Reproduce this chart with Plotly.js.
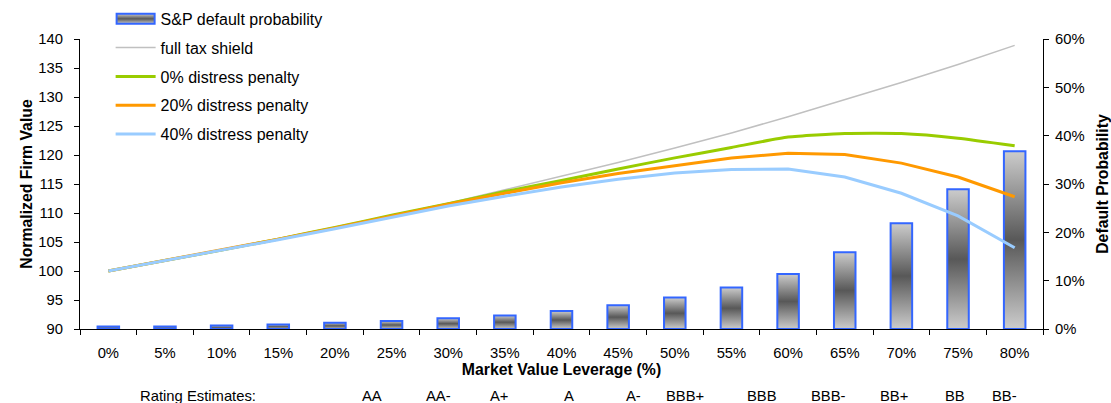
<!DOCTYPE html>
<html>
<head>
<meta charset="utf-8">
<script src="https://cdn.plot.ly/plotly-3.0.1.min.js"></script>
<style>
html,body{margin:0;padding:0;background:#fff;}
#chart{width:1111px;height:403px;}
</style>
</head>
<body>
<div id="chart"></div>
<script>
// ---- data ----
const leverageLabels = ["0%","5%","10%","15%","20%","25%","30%","35%","40%","45%","50%","55%","60%","65%","70%","75%","80%"];
const defaultProb = [0.5, 0.5, 0.7, 0.95, 1.3, 1.65, 2.2, 2.8, 3.7, 4.9, 6.5, 8.6, 11.4, 15.9, 21.9, 28.9, 36.8];
const fullTaxShield = [100, 101.8, 103.6, 105.5, 107.5, 109.6, 111.7, 114.0, 116.3, 118.7, 121.2, 123.8, 126.6, 129.5, 132.5, 135.6, 138.9];
const distress0 = [100, 101.8, 103.6, 105.5, 107.5, 109.6, 111.6, 113.7, 115.6, 117.6, 119.5, 121.3, 123.1, 123.7, 123.7, 122.9, 121.6];
const distress20 = [100, 101.8, 103.6, 105.5, 107.4, 109.5, 111.5, 113.4, 115.2, 116.8, 118.1, 119.5, 120.3, 120.1, 118.6, 116.2, 112.8];
const distress40 = [100, 101.8, 103.5, 105.4, 107.3, 109.3, 111.2, 112.9, 114.5, 115.8, 116.9, 117.5, 117.6, 116.2, 113.4, 109.5, 104.0];
const seriesNames = ["S&P default probability","full tax shield","0% distress penalty","20% distress penalty","40% distress penalty"];
const leftTicks = [90,95,100,105,110,115,120,125,130,135,140];
const rightTicks = [0,10,20,30,40,50,60];
const rightTickText = ["0%","10%","20%","30%","40%","50%","60%"];
const ratingTitle = "Rating Estimates:";
const ratingLabels = ["AA","AA-","A+","A","A-","BBB+","BBB","BBB-","BB+","BB","BB-"];
// label placement (category index units)
const ratingPos = [4.65, 5.82, 6.90, 8.14, 9.27, 10.18, 11.54, 12.71, 13.87, 14.94, 15.82];
const ratingTitlePos = 1.58;

const FONT = "Liberation Sans, Arial, Helvetica, sans-serif";
const TICK = 14.8;

const traces = [
  {type:"bar", x:leverageLabels, y:defaultProb, name:seriesNames[0], yaxis:"y", width:0.38,
   marker:{color:"#808080", line:{color:"#3366ff", width:2}}, legendgroup:"g0"},
  {type:"scatter", mode:"lines", x:leverageLabels, y:fullTaxShield, name:seriesNames[1], yaxis:"y2",
   line:{color:"#c0c0c0", width:1.5}, legendgroup:"g1"},
  {type:"scatter", mode:"lines", x:leverageLabels, y:distress0, name:seriesNames[2], yaxis:"y2",
   line:{color:"#99cc00", width:3, shape:"spline", smoothing:0.5}, legendgroup:"g2"},
  {type:"scatter", mode:"lines", x:leverageLabels, y:distress20, name:seriesNames[3], yaxis:"y2",
   line:{color:"#ff9900", width:3}, legendgroup:"g3"},
  {type:"scatter", mode:"lines", x:leverageLabels, y:distress40, name:seriesNames[4], yaxis:"y2",
   line:{color:"#99ccff", width:3}, legendgroup:"g4"}
];

const annotations = [{
  text: ratingTitle, x: ratingTitlePos, xref:"x", y:-0.231, yref:"paper",
  showarrow:false, xanchor:"center", yanchor:"middle", font:{family:FONT, size:TICK, color:"#000"}
}];
ratingLabels.forEach((t,i)=>{
  annotations.push({text:t, x:ratingPos[i], xref:"x", y:-0.231, yref:"paper",
    showarrow:false, xanchor:"center", yanchor:"middle", font:{family:FONT, size:TICK, color:"#000"}});
});

const layout = {
  width:1111, height:403,
  margin:{l:80, r:68, t:39, b:74, pad:0, autoexpand:false},
  paper_bgcolor:"#fff", plot_bgcolor:"#fff",
  font:{family:FONT, size:TICK, color:"#000"},
  showlegend:true,
  legend:{x:0.0318, y:1.128, xanchor:"left", yanchor:"top", bgcolor:"rgba(0,0,0,0)",
    font:{family:FONT, size:16, color:"#000"}, traceorder:"grouped", tracegroupgap:5, itemwidth:40},
  xaxis:{type:"category", tickson:"boundaries", ticks:"outside", ticklen:5, tickcolor:"#000",
    showline:true, linecolor:"#000", linewidth:1, showgrid:false, zeroline:false,
    tickfont:{family:FONT, size:TICK}, range:[-0.5,16.5], ticklabelstandoff:10,
    title:{text:"<b>Market Value Leverage (%)</b>", font:{family:FONT, size:15.8}, standoff:2}},
  yaxis:{side:"right", range:[0,60], tickvals:rightTicks, ticktext:rightTickText,
    ticks:"outside", ticklen:5, tickcolor:"#000", showline:true, linecolor:"#000", linewidth:1,
    showgrid:false, zeroline:false, tickfont:{family:FONT, size:TICK}, ticklabelstandoff:3,
    title:{text:"<b>Default Probability</b>", font:{family:FONT, size:15.8}, standoff:13}},
  yaxis2:{overlaying:"y", side:"left", range:[90,140], tickvals:leftTicks,
    ticks:"outside", ticklen:5, tickcolor:"#000", showline:true, linecolor:"#000", linewidth:1,
    showgrid:false, zeroline:false, tickfont:{family:FONT, size:TICK}, ticklabelstandoff:8,
    title:{text:"<b>Normalized Firm Value</b>", font:{family:FONT, size:15.8}, standoff:1}},
  annotations: annotations
};

Plotly.newPlot("chart", traces, layout, {staticPlot:true, displayModeBar:false}).then(gd=>{
  const svg = gd.querySelector(".main-svg");
  const ns = "http://www.w3.org/2000/svg";
  let defs = svg.querySelector("defs");
  if(!defs){ defs = document.createElementNS(ns,"defs"); svg.insertBefore(defs, svg.firstChild); }
  const grad = document.createElementNS(ns,"linearGradient");
  grad.setAttribute("id","barGrad");
  grad.setAttribute("x1","0"); grad.setAttribute("y1","0");
  grad.setAttribute("x2","0"); grad.setAttribute("y2","1");
  [["0","#cccccc"],["0.5","#585858"],["1","#cccccc"]].forEach(s=>{
    const st = document.createElementNS(ns,"stop");
    st.setAttribute("offset", s[0]); st.setAttribute("stop-color", s[1]);
    grad.appendChild(st);
  });
  defs.appendChild(grad);
  gd.querySelectorAll(".barlayer .point path").forEach(p=>{ p.style.fill = "url(#barGrad)"; });
  // legend: widen the bar symbol to match the line symbols
  const legendTraces = gd.querySelectorAll(".legend .traces");
  let lineRect = null;
  legendTraces.forEach(t=>{
    const lp = t.querySelector(".legendlines path");
    if(lp && !lineRect){ lineRect = lp.getBoundingClientRect(); }
  });
  legendTraces.forEach(t=>{
    const bp = t.querySelector(".legendpoints path");
    if(bp && !t.querySelector(".legendlines path")){
      const r = bp.getBoundingClientRect();
      const cx = r.left + r.width/2;
      if(lineRect){
        const L = lineRect.left - cx + 1, R = lineRect.right - cx - 1;
        bp.setAttribute("d", `M${L},5H${R}V-5H${L}Z`);
      }
      bp.style.fill = "url(#barGrad)";
    }
  });
});
</script>
</body>
</html>
